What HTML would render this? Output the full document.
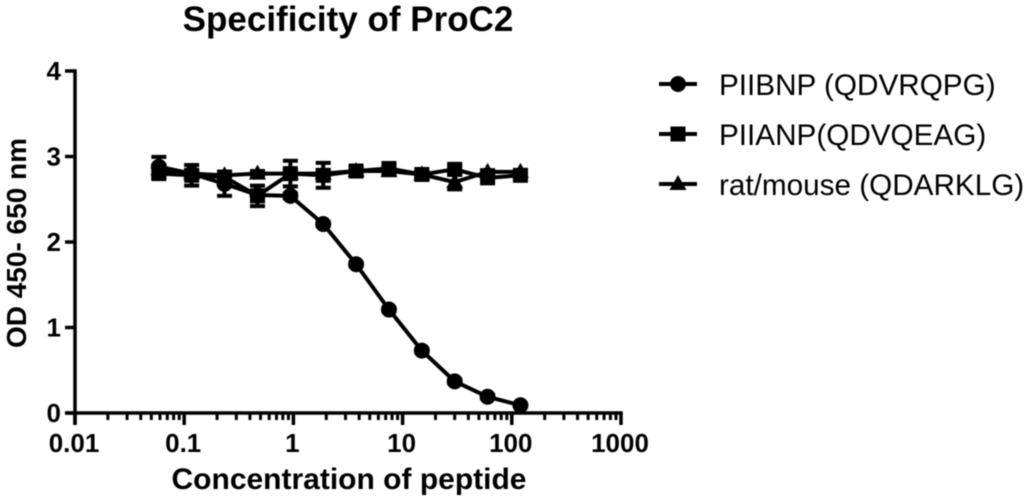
<!DOCTYPE html>
<html>
<head>
<meta charset="utf-8">
<style>
html,body{margin:0;padding:0;background:#fff;width:1024px;height:500px;overflow:hidden}
svg{display:block;filter:blur(0.4px)}
text{font-family:"Liberation Sans",sans-serif;fill:#000}
.b{font-weight:bold}
</style>
</head>
<body>
<svg id="chart" width="1024" height="500" viewBox="0 0 1024 500" xmlns="http://www.w3.org/2000/svg">
  <text class="b" x="348" y="31" font-size="35" text-anchor="middle">Specificity of ProC2</text>
  <text class="b" x="349" y="489" font-size="30" text-anchor="middle">Concentration of peptide</text>
  <text class="b" transform="translate(26,243) rotate(-90)" font-size="28" text-anchor="middle">OD 450- 650 nm</text>
  <g id="plot"></g>
  <g id="axes"></g>
  <g id="legend"></g>
</svg>
<script>
const concentrations = [0.0586, 0.117, 0.234, 0.469, 0.938, 1.875, 3.75, 7.5, 15, 30, 60, 120];
const piibnpValues = [2.88, 2.80, 2.68, 2.55, 2.54, 2.21, 1.74, 1.21, 0.73, 0.37, 0.19, 0.09];
const piibnpErrors = [0.115, 0.04, 0.14, 0.02, 0.03, 0.02, 0.02, 0.02, 0.02, 0.02, 0.02, 0.01];
const piianpValues = [2.80, 2.78, 2.76, 2.54, 2.80, 2.78, 2.83, 2.86, 2.79, 2.85, 2.75, 2.78];
const piianpErrors = [0.05, 0.12, 0.04, 0.12, 0.15, 0.146, 0.04, 0.04, 0.03, 0.04, 0.02, 0.03];
const ratValues = [2.85, 2.80, 2.78, 2.80, 2.80, 2.80, 2.83, 2.83, 2.79, 2.70, 2.82, 2.82];
const ratErrors = [0.05, 0.03, 0.03, 0.03, 0.04, 0.04, 0.03, 0.05, 0.03, 0.085, 0.02, 0.02];
const xTickValues = [0.01, 0.1, 1, 10, 100, 1000];
const xTickLabels = ["0.01", "0.1", "1", "10", "100", "1000"];
const yTickValues = [0, 1, 2, 3, 4];
const legendLabels = ["PIIBNP (QDVRQPG)", "PIIANP(QDVQEAG)", "rat/mouse (QDARKLG)"];

const NS = "http://www.w3.org/2000/svg";
const xScale = v => 75 + 109.2 * (Math.log10(v) + 2);
const yScale = v => 413 - 85.5 * v;

function mk(parent, tag, attrs) {
  const el = document.createElementNS(NS, tag);
  for (const k in attrs) el.setAttribute(k, attrs[k]);
  parent.appendChild(el);
  return el;
}
function marker(parent, kind, x, y) {
  if (kind === "circle") return mk(parent, "circle", {cx: x, cy: y, r: 8, fill: "#000"});
  if (kind === "square") return mk(parent, "rect", {x: x - 7.5, y: y - 7.5, width: 15, height: 15, fill: "#000"});
  return mk(parent, "polygon", {points: (x) + "," + (y - 9) + " " + (x + 8.5) + "," + (y + 6) + " " + (x - 8.5) + "," + (y + 6), fill: "#000"});
}

const plot = document.getElementById("plot");
const seriesList = [
  {name: "piibnp", kind: "circle", values: piibnpValues, errors: piibnpErrors},
  {name: "piianp", kind: "square", values: piianpValues, errors: piianpErrors},
  {name: "rat-mouse", kind: "triangle", values: ratValues, errors: ratErrors}
];
seriesList.forEach(s => {
  const g = mk(plot, "g", {});
  
  
  const pts = s.values.map((v, i) => xScale(concentrations[i]) + "," + yScale(v)).join(" ");
  const line = mk(g, "polyline", {points: pts, fill: "none", stroke: "#000", "stroke-width": 4, "stroke-linejoin": "round"});
  
  
  s.values.forEach((v, i) => {
    const x = xScale(concentrations[i]);
    const top = yScale(v + s.errors[i]);
    const bot = yScale(v - s.errors[i]);
    const err = mk(g, "path", {
      d: "M" + x + " " + top + "V" + bot + "M" + (x - 7.5) + " " + top + "H" + (x + 7.5) + "M" + (x - 7.5) + " " + bot + "H" + (x + 7.5),
      fill: "none", stroke: "#000", "stroke-width": 4
    });
    
    
    const m = marker(g, s.kind, x, yScale(v));
    
    
  });
});

const axes = document.getElementById("axes");
const yAxisLine = mk(axes, "line", {x1: xScale(0.01), x2: xScale(0.01), y1: yScale(4) - 1.7, y2: yScale(0) + 12, stroke: "#000", "stroke-width": 3.5});


const xAxisLine = mk(axes, "line", {x1: xScale(0.01) - 10, x2: xScale(1000) + 1.7, y1: yScale(0), y2: yScale(0), stroke: "#000", "stroke-width": 3.5});



yTickValues.forEach(v => {
  const t = mk(axes, "line", {x1: xScale(0.01) - 10, x2: xScale(0.01), y1: yScale(v), y2: yScale(v), stroke: "#000", "stroke-width": 3.5});
  
  
  const l = mk(axes, "text", {x: 61, y: yScale(v) + 9, "font-size": 26, "text-anchor": "end", "class": "b"});
  
  
  l.textContent = String(v);
});
xTickValues.forEach((v, i) => {
  const x = xScale(v);
  const t = mk(axes, "line", {x1: x, x2: x, y1: yScale(0), y2: yScale(0) + 12, stroke: "#000", "stroke-width": 3.5});
  
  
  const l = mk(axes, "text", {x: x - 1, y: 452, "font-size": 26, "text-anchor": "middle", "class": "b"});
  
  
  l.textContent = xTickLabels[i];
  if (i < xTickValues.length - 1) {
    for (let m = 2; m <= 9; m++) {
      const xm = xScale(v * m);
      const mt = mk(axes, "line", {x1: xm, x2: xm, y1: yScale(0), y2: yScale(0) + 7, stroke: "#000", "stroke-width": 3});
      
      
    }
  }
});

const legend = document.getElementById("legend");
const legendKinds = ["circle", "square", "triangle"];
legendLabels.forEach((label, i) => {
  const y = 84 + 50 * i;
  const g = mk(legend, "g", {});
  
  
  mk(g, "line", {x1: 659, x2: 697, y1: y, y2: y, stroke: "#000", "stroke-width": 4});
  marker(g, legendKinds[i], 678, y);
  const t = mk(g, "text", {x: 719, y: y + 11, "font-size": 29.7});
  
  
  t.textContent = label;
});
</script>
</body>
</html>
